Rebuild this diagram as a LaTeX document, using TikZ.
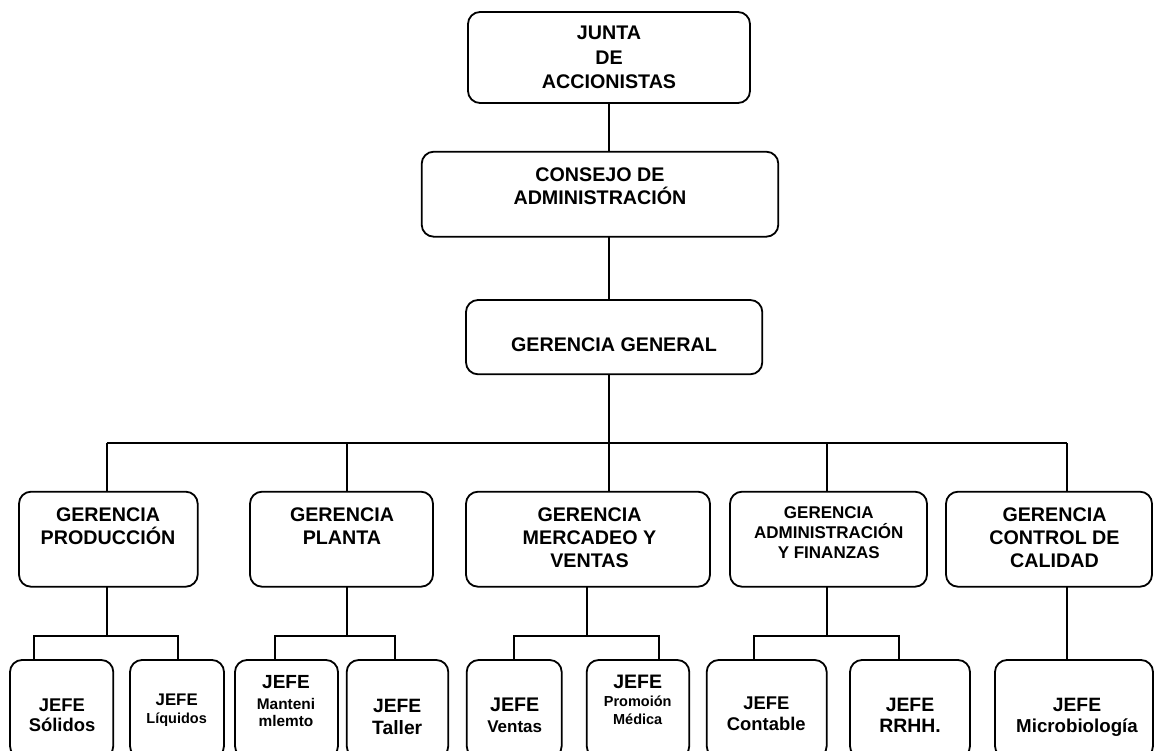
\documentclass[tikz,border=0pt]{standalone}
\usepackage{fontspec}
\setmainfont{Liberation Sans}
\newcommand{\fs}[2]{\fontsize{#1}{#2}\selectfont}
\begin{document}
\begin{tikzpicture}[x=1pt,y=-1pt,
  box/.style={draw, line width=1.8pt, rounded corners=12pt, inner sep=0pt, outer sep=0pt},
  lbl/.style={anchor=north, inner sep=0pt, outer sep=0pt, align=center},
  link/.style={line width=1.8pt}]
\useasboundingbox (0,0) rectangle (1154,751);
\clip (0,0) rectangle (1154,751);

% ---- top of the chart
\node[box, minimum width=282pt, minimum height=91pt]     (junta)   at (609,57.5) {};
\node[box, minimum width=356.6pt, minimum height=85pt]   (consejo) at (600,194.2) {};
\node[box, minimum width=296.3pt, minimum height=74.3pt] (general) at (614.15,337.15) {};

\node[lbl, font=\bfseries\fs{19.7}{24.6}] (tjunta)   at (609,25.9)   {JUNTA\\DE\\ACCIONISTAS};
\node[lbl, font=\bfseries\fs{19.7}{23.3}] (tconsejo) at (600,167.6)  {CONSEJO DE\\ADMINISTRACIÓN};
\node[lbl, font=\bfseries\fs{19.7}{23.3}] (tgeneral) at (614,337.6)  {GERENCIA GENERAL};

% ---- managements
\node[box, minimum width=178.7pt, minimum height=95pt] (prod)    at (108.35,539.2) {};
\node[box, minimum width=183pt,   minimum height=95pt] (planta)  at (341.5,539.2) {};
\node[box, minimum width=244pt,   minimum height=95pt] (merc)    at (588,539.2) {};
\node[box, minimum width=197pt,   minimum height=95pt] (admin)   at (828.5,539.2) {};
\node[box, minimum width=206pt,   minimum height=95pt] (control) at (1049,539.2) {};

\node[lbl, font=\bfseries\fs{19.7}{23.3}] (tprod)    at (108,507.6)   {GERENCIA\\PRODUCCIÓN};
\node[lbl, font=\bfseries\fs{19.7}{23.3}] (tplanta)  at (342,507.6)   {GERENCIA\\PLANTA};
\node[lbl, font=\bfseries\fs{19.7}{23.3}] (tmerc)    at (589.5,507.6) {GERENCIA\\MERCADEO Y\\VENTAS};
\node[lbl, font=\bfseries\fs{17}{20}]     (tadmin)   at (828.8,507.1) {GERENCIA\\ADMINISTRACIÓN\\Y FINANZAS};
\node[lbl, font=\bfseries\fs{19.7}{23.3}] (tcontrol) at (1054.5,507.6) {GERENCIA\\CONTROL DE\\CALIDAD};

% ---- heads of department
\node[box, minimum width=103.3pt, minimum height=98pt] (solidos)  at (61.65,709) {};
\node[box, minimum width=94pt,    minimum height=98pt] (liquidos) at (177,709) {};
\node[box, minimum width=103pt,   minimum height=98pt] (mant)     at (286.5,709) {};
\node[box, minimum width=101.6pt, minimum height=98pt] (taller)   at (397.5,709) {};
\node[box, minimum width=95pt,    minimum height=98pt] (ventas)   at (514.2,709) {};
\node[box, minimum width=102.6pt, minimum height=98pt] (promo)    at (638,709) {};
\node[box, minimum width=120pt,   minimum height=98pt] (contable) at (766.7,709) {};
\node[box, minimum width=120pt,   minimum height=98pt] (rrhh)     at (910,709) {};
\node[box, minimum width=158pt,   minimum height=98pt] (micro)    at (1074,709) {};

\node[lbl, font=\bfseries\fs{18.4}{20}]   (tsolidos)  at (62,698.5)    {JEFE\\Sólidos};
\node[lbl, font=\bfseries\fs{16.8}{18}]   (tliquidos) at (176.7,694)   {JEFE\\{\fs{14.5}{18}Líquidos}};
\node[lbl, font=\bfseries\fs{19}{20.7}]   (tmant)     at (286,675.7)   {JEFE\\{\fs{15.4}{18}Manteni}\\[-3.4pt]{\fs{15.4}{18}mlemto}};
\node[lbl, font=\bfseries\fs{19.3}{22.3}] (ttaller)   at (397.2,698.9) {JEFE\\Taller};
\node[lbl, font=\bfseries\fs{19.7}{21}]   (tventas)   at (514.7,697.6) {JEFE\\{\fs{17}{21}Ventas}};
\node[lbl, font=\bfseries\fs{19.5}{18}]   (tpromo)    at (637.7,675)   {JEFE\\{\fs{14.5}{18}Promoión}\\{\fs{14.5}{18}Médica}};
\node[lbl, font=\bfseries\fs{18.4}{20.7}] (tcontable) at (766.3,696.8) {JEFE\\Contable};
\node[lbl, font=\bfseries\fs{19.4}{21}]   (trrhh)     at (910,697.8)   {JEFE\\RRHH.};
\node[lbl, font=\bfseries\fs{19.3}{21}]   (tmicro)    at (1077,698)    {JEFE\\{\fs{18.7}{21}Microbiología}};

% ---- levels of the connector tree
\coordinate (bus) at (0,443.3);
\coordinate (sub) at (0,635.7);

% attachment points on the boxes
\coordinate (prodTop)  at ([xshift=-1.65pt]prod.north);
\coordinate (plantaTop) at ([xshift=5.2pt]planta.north);
\coordinate (adminTop) at ([xshift=-1.8pt]admin.north);
\coordinate (ctrlTop)  at ([xshift=17.7pt]control.north);

\coordinate (prodBot)  at ([xshift=-1.65pt]prod.south);
\coordinate (plantaBot) at ([xshift=5.2pt]planta.south);
\coordinate (mercBot)  at ([xshift=-1.3pt]merc.south);
\coordinate (adminBot) at ([xshift=-1.8pt]admin.south);
\coordinate (ctrlBot)  at ([xshift=17.7pt]control.south);

\coordinate (solTop)  at ([xshift=-27.35pt]solidos.north);
\coordinate (liqTop)  at ([xshift=1.3pt]liquidos.north);
\coordinate (mantTop) at ([xshift=-11.5pt]mant.north);
\coordinate (tallTop) at ([xshift=-2.5pt]taller.north);
\coordinate (ventTop) at (ventas.north);
\coordinate (promTop) at ([xshift=21pt]promo.north);
\coordinate (contTop) at ([xshift=-12.4pt]contable.north);
\coordinate (rrhhTop) at ([xshift=-11pt]rrhh.north);
\coordinate (micTop)  at ([xshift=-7.3pt]micro.north);

% ---- trunk
\draw[link] (junta.south) -- (junta.south |- consejo.north);
\draw[link] (junta.south |- consejo.south) -- (junta.south |- general.north);
\draw[link] (junta.south |- general.south) -- (junta.south |- merc.north);

% ---- managements bus
\draw[link] (prodTop |- bus) -- (ctrlTop |- bus);
\draw[link] (prodTop) -- (prodTop |- bus);
\draw[link] (plantaTop) -- (plantaTop |- bus);
\draw[link] (adminTop) -- (adminTop |- bus);
\draw[link] (ctrlTop) -- (ctrlTop |- bus);

% ---- department branches
\draw[link] (prodBot) -- (prodBot |- sub);
\draw[link] (solTop) -- (solTop |- sub) -- (liqTop |- sub) -- (liqTop);

\draw[link] (plantaBot) -- (plantaBot |- sub);
\draw[link] (mantTop) -- (mantTop |- sub) -- (tallTop |- sub) -- (tallTop);

\draw[link] (mercBot) -- (mercBot |- sub);
\draw[link] (ventTop) -- (ventTop |- sub) -- (promTop |- sub) -- (promTop);

\draw[link] (adminBot) -- (adminBot |- sub);
\draw[link] (contTop) -- (contTop |- sub) -- (rrhhTop |- sub) -- (rrhhTop);

\draw[link] (ctrlBot) -- (micTop);
\end{tikzpicture}
\end{document}
